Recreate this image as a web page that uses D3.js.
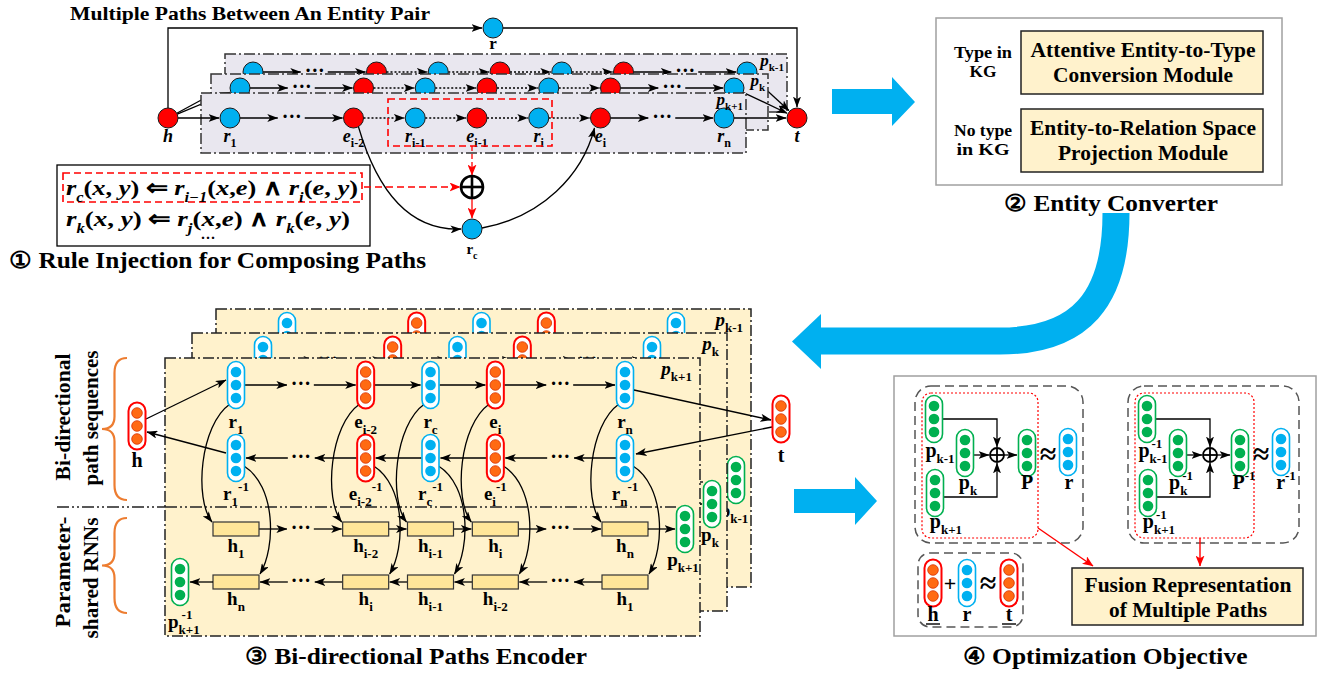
<!DOCTYPE html>
<html><head><meta charset="utf-8">
<script src="https://cdnjs.cloudflare.com/ajax/libs/d3/7.8.5/d3.min.js"></script>
<style>html,body{margin:0;padding:0;background:#fff;overflow:hidden}text{white-space:pre}</style>
</head><body>
<svg id="chart" width="1330" height="676"></svg>
<script>
// ================= DATA =================
const topTitle = "Multiple Paths Between An Entity Pair";
const sectionTitles = ["\u2460 Rule Injection for Composing Paths", "\u2461 Entity Converter", "\u2462 Bi-directional Paths Encoder", "\u2463 Optimization Objective"];
const topPathNodes = ["r_{1}", "\u00b7\u00b7\u00b7", "e_{i-2}", "r_{i-1}", "e_{i-1}", "r_{i}", "e_{i}", "\u00b7\u00b7\u00b7", "r_{n}"];
const topNodeKinds = ["rel", "dots", "ent", "rel", "ent", "rel", "ent", "dots", "rel"];
const composedRange = [2, 6];
const pathPanels = ["p_{k-1}", "p_{k}", "p_{k+1}"];
const pairLabels = ["h", "r", "t"];
const composedLabel = "r_{c}";
const ruleLines = ["r_{c}(x, y) \u21D0 r_{i\u22121}(x,e) \u2227 r_{i}(e, y)", "r_{k}(x, y) \u21D0 r_{j}(x,e) \u2227 r_{k}(e, y)"];
const converterConditions = [["Type in", "KG"], ["No type", "in KG"]];
const converterModules = [["Attentive Entity-to-Type", "Conversion Module"], ["Entity-to-Relation Space", "Projection Module"]];
const encSeqForward = ["r_{1}", "\u00b7\u00b7\u00b7", "e_{i-2}", "r_{c}", "e_{i}", "\u00b7\u00b7\u00b7", "r_{n}"];
const encSeqBackward = ["r_{1}^{-1}", "\u00b7\u00b7\u00b7", "e_{i-2}^{-1}", "r_{c}^{-1}", "e_{i}^{-1}", "\u00b7\u00b7\u00b7", "r_{n}^{-1}"];
const encKinds = ["rel", "dots", "ent", "rel", "ent", "dots", "rel"];
const rnnForward = ["h_{1}", "\u00b7\u00b7\u00b7", "h_{i-2}", "h_{i-1}", "h_{i}", "\u00b7\u00b7\u00b7", "h_{n}"];
const rnnBackward = ["h_{n}", "\u00b7\u00b7\u00b7", "h_{i}", "h_{i-1}", "h_{i-2}", "\u00b7\u00b7\u00b7", "h_{1}"];
const encSideLabels = [["Bi-directional", "path sequences"], ["Parameter-", "shared RNNs"]];
const invPathLabel = "p_{k+1}^{-1}";
const fusionInputs = [["p_{k-1}", "p_{k}", "p_{k+1}"], ["p_{k-1}^{-1}", "p_{k}^{-1}", "p_{k+1}^{-1}"]];
const fusionOutputs = [["P", "r"], ["P^{-1}", "r^{-1}"]];
const tripleLabels = ["h", "r", "t"];
const fusionText = ["Fusion Representation", "of Multiple Paths"];

// ================= STYLE / HELPERS =================
const SERIF = "'Liberation Serif','Times New Roman',Times,serif";
const C = { blue: "#00b0f0", red: "#ff0000", orange: "#ff6a13", green: "#00b050", tan: "#fff2cc", rnn: "#ffe699", lav: "#e9e7ef", brace: "#ed7d31" };
const DASHDOT = "11,3,2,3";
const svg = d3.select("#chart");
svg.append("rect").attr("width", 1330).attr("height", 676).attr("fill", "#fff");
const defs = svg.append("defs");
function marker(id, color, w, h) {
  defs.append("marker").attr("id", id).attr("viewBox", "0 0 10 10").attr("refX", 9.5).attr("refY", 5)
    .attr("markerWidth", w).attr("markerHeight", h).attr("markerUnits", "userSpaceOnUse")
    .attr("orient", "auto").attr("preserveAspectRatio", "none")
    .append("path").attr("d", "M0,0 L10,5 L0,10 L2.5,5 Z").attr("fill", color);
}
marker("ak", "#000", 11, 8);
marker("ar", C.red, 11, 9);
function line(g, x1, y1, x2, y2, o = {}) {
  return g.append("line").attr("x1", x1).attr("y1", y1).attr("x2", x2).attr("y2", y2)
    .attr("stroke", o.color || "#000").attr("stroke-width", o.w || 1.3)
    .attr("stroke-dasharray", o.dash || null)
    .attr("marker-end", o.arrow === false ? null : `url(#${o.marker || "ak"})`);
}
function pth(g, d, o = {}) {
  return g.append("path").attr("d", d).attr("fill", "none").attr("stroke", o.color || "#000")
    .attr("stroke-width", o.w || 1.3).attr("stroke-dasharray", o.dash || null)
    .attr("marker-end", o.arrow === false ? null : `url(#${o.marker || "ak"})`);
}
function txt(g, x, y, s, o = {}) {
  const t = g.append("text").attr("x", x).attr("y", y).attr("text-anchor", o.anchor || "middle")
    .attr("font-family", SERIF).attr("font-weight", o.weight || "bold").attr("font-size", o.size || 18)
    .attr("fill", "#000").text(s);
  if (o.style) t.attr("font-style", o.style);
  if (o.len) t.attr("textLength", o.len).attr("lengthAdjust", "spacingAndGlyphs");
  return t;
}
function lab(g, x, y, s, o = {}) {
  const size = o.size || 18, ss = o.sub || Math.round(size * 0.66);
  const m = s.match(/^([^_^]*)(?:_\{([^}]*)\})?(?:\^\{([^}]*)\})?$/);
  const t = g.append("text").attr("x", x).attr("y", y).attr("text-anchor", o.anchor || "middle")
    .attr("font-family", SERIF).attr("font-weight", "bold").attr("font-size", size).attr("fill", "#000");
  t.append("tspan").attr("font-style", o.italic ? "italic" : "normal").text(m[1]);
  const subDy = size * 0.3, supDy = size * 0.45;
  if (m[2] && m[3] && o.stack) {
    const sp = t.append("tspan").attr("font-size", ss).attr("dy", -supDy).attr("dx", o.supDx || 0).text(m[3]);
    const w = sp.node().getComputedTextLength() + (o.supDx || 0);
    t.append("tspan").attr("font-size", ss).attr("dx", -w).attr("dy", supDy + subDy).text(m[2]);
  } else {
    if (m[2]) t.append("tspan").attr("font-size", ss).attr("dy", subDy).text(m[2]);
    if (m[3]) t.append("tspan").attr("font-size", ss).attr("dy", -(m[2] ? subDy : 0) - supDy).text(m[3]);
  }
  return t;
}
function mathLine(g, x, y, s, size, len) {
  const t = g.append("text").attr("x", x).attr("y", y).attr("font-family", SERIF)
    .attr("font-weight", "bold").attr("font-size", size).attr("fill", "#000");
  let cur = 0;
  const put = (str, italic, fs, off) => {
    const sp = t.append("tspan").text(str).attr("font-style", italic ? "italic" : "normal");
    if (fs) sp.attr("font-size", fs);
    if (off !== cur) { sp.attr("dy", off - cur); cur = off; }
  };
  const re = /([a-z])(?:_\{([^}]*)\})?|([^a-z])/g; let m;
  while ((m = re.exec(s))) {
    if (m[1]) { put(m[1], true, null, 0); if (m[2]) put(m[2], true, size * 0.62, size * 0.3); }
    else put(m[3], false, null, 0);
  }
  if (len) t.attr("textLength", len).attr("lengthAdjust", "spacingAndGlyphs");
  return t;
}
const VEC = {
  ent: { stroke: "#ff0000", fill: C.orange, ring: "#d83000" },
  rel: { stroke: C.blue, fill: C.blue, ring: "none" },
  path: { stroke: C.green, fill: C.green, ring: "none" }
};
function vec(g, cx, cy, kind) {
  const st = VEC[kind];
  g.append("rect").attr("x", cx - 8.5).attr("y", cy - 23.5).attr("width", 17).attr("height", 47).attr("rx", 8.5)
    .attr("fill", "#fff").attr("stroke", st.stroke).attr("stroke-width", kind === "ent" ? 2 : 1.6);
  [-13, 0, 13].forEach(d => g.append("circle").attr("cx", cx).attr("cy", cy + d).attr("r", 5.3)
    .attr("fill", st.fill).attr("stroke", st.ring).attr("stroke-width", 0.8));
}
function oplus(g, cx, cy, r, w) {
  g.append("circle").attr("cx", cx).attr("cy", cy).attr("r", r).attr("fill", "#fff").attr("stroke", "#000").attr("stroke-width", w);
  line(g, cx - r, cy, cx + r, cy, { w: w, arrow: false });
  line(g, cx, cy - r, cx, cy + r, { w: w, arrow: false });
}
function braceL(x, y0, y1, w) {
  const ym = (y0 + y1) / 2, xr = x + w, xm = x + w / 2;
  return `M${xr},${y0} Q${xm},${y0} ${xm},${y0 + w * 0.6} L${xm},${ym - w * 0.5} Q${xm},${ym} ${x},${ym} ` +
    `Q${xm},${ym} ${xm},${ym + w * 0.5} L${xm},${y1 - w * 0.6} Q${xm},${y1} ${xr},${y1}`;
}
function dots(g, x, y) { txt(g, x, y + 5, "\u00b7\u00b7\u00b7", { size: 20 }); }

// ================= SECTION 1: multiple paths =================
const g1 = svg.append("g");
txt(g1, 70, 20, topTitle, { anchor: "start", size: 19, len: 360 });
const H = { x: 168, y: 118 }, T = { x: 797, y: 118 }, RN = 10, topRX = 493, topRY = 28;
const topX = d3.scalePoint().domain(d3.range(topPathNodes.length)).range([230, 724]);
pth(g1, `M${H.x},${H.y - RN} V${topRY} H${topRX - RN - 1}`);
pth(g1, `M${topRX + RN},${topRY} H${T.x} V${T.y - RN - 1}`);
g1.append("circle").attr("cx", topRX).attr("cy", topRY).attr("r", RN).attr("fill", C.blue).attr("stroke", "#1a1a1a");
lab(g1, topRX, topRY + 21, pairLabels[1], { size: 17 });
const topPanelLayout = [
  { dx: 23, ny: 72, y0: 54, y1: 112, x0: 225, x1: 787 },
  { dx: 10, ny: 88, y0: 74, y1: 130, x0: 211, x1: 768 },
  { dx: 0, ny: 118, y0: 93, y1: 153, x0: 201, x1: 746 }];
pathPanels.forEach((pl, k) => {
  const L = topPanelLayout[k], ny = L.ny, g = g1.append("g");
  g.append("rect").attr("x", L.x0).attr("y", L.y0).attr("width", L.x1 - L.x0).attr("height", L.y1 - L.y0)
    .attr("fill", C.lav).attr("stroke", "#333").attr("stroke-width", 1.5).attr("stroke-dasharray", DASHDOT);
  const nx = i => topX(i) + L.dx, N = topPathNodes.length;
  let a = Math.atan2(ny - H.y, nx(0) - H.x);
  line(g, H.x + RN * Math.cos(a), H.y + RN * Math.sin(a), nx(0) - (RN + 1) * Math.cos(a), ny - (RN + 1) * Math.sin(a));
  for (let i = 0; i < N - 1; i++) {
    const ra = topNodeKinds[i] === "dots" ? 13 : RN, rb = topNodeKinds[i + 1] === "dots" ? 14 : RN + 1;
    const dotted = i >= composedRange[0] && i < composedRange[1];
    line(g, nx(i) + ra, ny, nx(i + 1) - rb, ny, { dash: dotted ? "2,2" : null });
  }
  a = Math.atan2(T.y - ny, T.x - nx(N - 1));
  line(g, nx(N - 1) + RN * Math.cos(a), ny + RN * Math.sin(a), T.x - (RN + 1) * Math.cos(a), T.y - (RN + 1) * Math.sin(a));
  topPathNodes.forEach((n, i) => {
    if (topNodeKinds[i] === "dots") { dots(g, nx(i), ny); return; }
    g.append("circle").attr("cx", nx(i)).attr("cy", ny).attr("r", RN)
      .attr("fill", topNodeKinds[i] === "ent" ? C.red : C.blue).attr("stroke", "#1a1a1a");
    lab(g, nx(i), ny + 24, n, { italic: true, size: 18, sub: 12 });
  });
  lab(g, L.x1 - 3, L.y0 + 12, pl, { anchor: "end", italic: true, size: 17, sub: 11 });
});
[[H, pairLabels[0]], [T, pairLabels[2]]].forEach(([p, s]) => {
  g1.append("circle").attr("cx", p.x).attr("cy", p.y).attr("r", RN).attr("fill", C.red).attr("stroke", "#1a1a1a");
  lab(g1, p.x, p.y + 24, s, { italic: true, size: 18 });
});
g1.append("rect").attr("x", 388).attr("y", 99).attr("width", 164).attr("height", 47).attr("fill", "none")
  .attr("stroke", C.red).attr("stroke-width", 1.6).attr("stroke-dasharray", "7,4");
const OP = { x: 472, y: 187 }, RC = { x: 472, y: 229 };
line(g1, OP.x, 146, OP.x, OP.y - 12, { color: C.red, marker: "ar", dash: "5,3", w: 1.3 });
line(g1, OP.x, OP.y + 12, OP.x, RC.y - RN - 1, { color: C.red, marker: "ar", w: 1.3 });
pth(g1, `M${topX(2) + 5},${H.y + 9} C${topX(2) + 25},${195} ${OP.x - 60},${RC.y + 2} ${RC.x - RN - 1},${RC.y}`);
pth(g1, `M${RC.x + RN},${RC.y - 1} C${RC.x + 70},${RC.y - 12} ${topX(6) - 18},${175} ${topX(6) - 6},${H.y + 10}`);
oplus(g1, OP.x, OP.y, 11, 2.6);
g1.append("circle").attr("cx", RC.x).attr("cy", RC.y).attr("r", RN).attr("fill", C.blue).attr("stroke", "#1a1a1a");
lab(g1, RC.x, RC.y + 25, composedLabel, { size: 15, sub: 10 });
g1.append("rect").attr("x", 57).attr("y", 165).attr("width", 313).attr("height", 81).attr("fill", "#fff").attr("stroke", "#000").attr("stroke-width", 1.3);
g1.append("rect").attr("x", 63).attr("y", 173).attr("width", 299).attr("height", 29).attr("fill", "none")
  .attr("stroke", C.red).attr("stroke-width", 1.6).attr("stroke-dasharray", "7,4");
mathLine(g1, 66, 195, ruleLines[0], 22, 292);
mathLine(g1, 66, 226, ruleLines[1], 22, 284);
txt(g1, 208, 243, "\u00b7\u00b7\u00b7", { size: 15 });
line(g1, 364, OP.y, OP.x - 12, OP.y, { color: C.red, marker: "ar", dash: "7,4", w: 1.4 });
txt(g1, 9, 268, sectionTitles[0], { anchor: "start", size: 23, len: 417 });

// ================= SECTION 2: entity converter =================
const g2 = svg.append("g");
g2.append("path").attr("d", "M832,89 L892,89 L892,77 L915,102 L892,126 L892,114 L832,114 Z").attr("fill", C.blue);
g2.append("rect").attr("x", 936).attr("y", 18).attr("width", 346).attr("height", 167).attr("fill", "#fff").attr("stroke", "#a0a0a0").attr("stroke-width", 1.5);
const modY = [31, 109];
converterModules.forEach((m, i) => {
  g2.append("rect").attr("x", 1021).attr("y", modY[i]).attr("width", 242).attr("height", 63)
    .attr("fill", C.tan).attr("stroke", "#222").attr("stroke-width", 1.5);
  txt(g2, 1143, modY[i] + 26, m[0], { size: 20, len: [225, 226][i] });
  txt(g2, 1143, modY[i] + 51, m[1], { size: 20, len: [180, 170][i] });
  const c = converterConditions[i];
  txt(g2, 983, modY[i] + 27, c[0], { size: 16, len: 58 });
  txt(g2, 983, modY[i] + 46, c[1], { size: 16, len: [27, 53][i] });
});
txt(g2, 1111, 211, sectionTitles[1], { size: 23, len: 214 });
g2.append("path").attr("d", "M1116,213 C1116,300 1080,341 1000,341 L819,341").attr("fill", "none").attr("stroke", C.blue).attr("stroke-width", 27);
g2.append("path").attr("d", "M821,314 L821,369 L792,341.5 Z").attr("fill", C.blue);

// ================= SECTION 3: encoder =================
const g3 = svg.append("g");
const encX = d3.scalePoint().domain(d3.range(encSeqForward.length)).range([236, 625]);
const Y1 = 385, Y2 = 458, YF = 529, YB = 582, RW = 46, RH = 14;
const GP = { x: 685, y: 529 }, GB = { x: 180, y: 582 };
function encoderPanel(g, pl) {
  g.append("rect").attr("x", 165).attr("y", 358).attr("width", 535).attr("height", 278)
    .attr("fill", C.tan).attr("stroke", "#222").attr("stroke-width", 1.5).attr("stroke-dasharray", DASHDOT);
  line(g, 165, 507, GP.x - 9, 507, { arrow: false, dash: "12,3,2,3,2,3", w: 1.6, color: "#222" });
  const n = encSeqForward.length, X = encX;
  encSeqForward.forEach((s, i) => {
    if (encKinds[i] === "dots") return;
    const x = X(i);
    pth(g, `M${x - 6},${Y1 + 19} C${x - 36},${Y1 + 40} ${x - 42},${YF - 30} ${x - 24},${YF - 7}`);
  });
  encSeqBackward.forEach((s, i) => {
    if (encKinds[i] === "dots") return;
    const x = X(i);
    pth(g, `M${x + 8},${Y2 + 8} C${x + 40},${Y2 + 28} ${x + 40},${YB - 35} ${x + 24},${YB - 8}`);
  });
  for (let i = 0; i < n - 1; i++) {
    const dA = encKinds[i] === "dots", dB = encKinds[i + 1] === "dots";
    line(g, X(i) + (dA ? 13 : 9), Y1, X(i + 1) - (dB ? 14 : 10), Y1);
    line(g, X(i + 1) - (dB ? 13 : 9), Y2, X(i) + (dA ? 14 : 10), Y2);
    line(g, X(i) + (dA ? 13 : RW / 2), YF, X(i + 1) - (dB ? 14 : RW / 2 + 1), YF);
    line(g, X(i + 1) - (dB ? 13 : RW / 2), YB, X(i) + (dA ? 14 : RW / 2 + 1), YB);
  }
  encSeqForward.forEach((s, i) => {
    const x = X(i);
    if (encKinds[i] === "dots") { dots(g, x, Y1); dots(g, x, Y2); dots(g, x, YF); dots(g, x, YB); return; }
    vec(g, x, Y1, encKinds[i]); vec(g, x, Y2, encKinds[i]);
    lab(g, x, Y1 + 43, s, { size: 19, sub: 13 });
    lab(g, x, Y2 + 42, encSeqBackward[i], { size: 19, sub: 13 });
    [[YF, rnnForward[i]], [YB, rnnBackward[i]]].forEach(([y, l]) => {
      g.append("rect").attr("x", x - RW / 2).attr("y", y - RH / 2).attr("width", RW).attr("height", RH)
        .attr("fill", C.rnn).attr("stroke", "#333").attr("stroke-width", 1.2);
      lab(g, x, y + 23, l, { size: 19, sub: 13 });
    });
  });
  line(g, X(n - 1) + RW / 2, YF, GP.x - 10, YF);
  vec(g, GP.x, GP.y, "path");
  lab(g, GP.x - 2, GP.y + 37, pl, { size: 19, sub: 13 });
  line(g, X(0) - RW / 2, YB, GB.x + 10, YB);
  vec(g, GB.x, GB.y, "path");
  lab(g, 168, 628, invPathLabel, { anchor: "start", size: 19, sub: 13, stack: true, supDx: 3 });
  lab(g, 692, 375, pl, { anchor: "end", italic: true, size: 19, sub: 13 });
}
const encPanelLayout = [{ dx: 51, dy: -49 }, { dx: 27, dy: -25 }, { dx: 0, dy: 0 }];
pathPanels.forEach((pl, k) => {
  const L = encPanelLayout[k];
  encoderPanel(g3.append("g").attr("transform", `translate(${L.dx},${L.dy})`), pl);
});
const EH = { x: 137, y: 426 }, ET = { x: 781, y: 419 };
line(g3, 57, 507, 165, 507, { arrow: false, dash: "12,3,2,3,2,3", w: 1.6, color: "#222" });
line(g3, EH.x + 9, EH.y - 7, encX(0) - 10, Y1 - 5);
line(g3, encX(0) - 10, Y2 - 5, EH.x + 10, EH.y + 6);
line(g3, encX(6) + 9, Y1 + 5, ET.x - 10, ET.y + 1);
line(g3, ET.x - 9, ET.y + 8, encX(6) + 11, Y2 - 4);
vec(g3, EH.x, EH.y, "ent");
vec(g3, ET.x, ET.y, "ent");
lab(g3, EH.x, EH.y + 41, pairLabels[0], { size: 20 });
lab(g3, ET.x, ET.y + 43, pairLabels[2], { size: 20 });
pth(g3, braceL(102, 358, 500, 25), { arrow: false, color: C.brace, w: 2.2 });
pth(g3, braceL(102, 518, 613, 25), { arrow: false, color: C.brace, w: 2.2 });
const sideCY = [[417, 418], [572, 578]], sideLen = [[127, 135], [111, 121]];
encSideLabels.forEach((pair, i) => {
  pair.forEach((s, j) => {
    const cx = 62 + j * 28, cy = sideCY[i][j];
    txt(g3.append("g").attr("transform", `translate(${cx},${cy}) rotate(-90)`), 0, 0, s, { size: 22, len: sideLen[i][j] })
      .attr("dy", "0.35em");
  });
});
txt(g3, 416, 664, sectionTitles[2], { size: 23, len: 342 });
g3.append("path").attr("d", "M794,489 L855,489 L855,477 L877,501 L855,525 L855,513 L794,513 Z").attr("fill", C.blue);

// ================= SECTION 4: optimization objective =================
const g4 = svg.append("g");
g4.append("rect").attr("x", 894).attr("y", 376).attr("width", 422).attr("height", 260).attr("fill", "#fff").attr("stroke", "#a0a0a0").attr("stroke-width", 1.5);
fusionInputs.forEach((inputs, j) => {
  const ox = j * 213, g = g4.append("g").attr("transform", `translate(${ox},0)`);
  const inv = j === 1;
  g.append("rect").attr("x", 915).attr("y", 386).attr("width", 168 + j * 3).attr("height", 157).attr("rx", 16)
    .attr("fill", "none").attr("stroke", "#555").attr("stroke-width", 1.5).attr("stroke-dasharray", "9,5");
  g.append("rect").attr("x", 922).attr("y", 393).attr("width", 116 + j * 3).attr("height", 145).attr("rx", 9)
    .attr("fill", "none").attr("stroke", C.red).attr("stroke-width", 1.2).attr("stroke-dasharray", "2,2");
  const P = [{ x: 934, y: 419 }, { x: 965, y: 453 }, { x: 935, y: 493 }], O = { x: 997, y: 455 };
  pth(g, `M${P[0].x + 9},${P[0].y} H${O.x} V${O.y - 8}`);
  line(g, P[1].x + 9, O.y, O.x - 8, O.y);
  pth(g, `M${P[2].x + 9},${P[2].y + 4} H${O.x} V${O.y + 8}`);
  line(g, O.x + 7, O.y, 1017, O.y);
  oplus(g, O.x, O.y, 7, 1.8);
  P.forEach(p => vec(g, p.x, p.y, "path"));
  vec(g, 1027, 453, "path");
  vec(g, 1068, 452, "rel");
  txt(g, 1048, 464, "\u2248", { size: 30 });
  const lo = { size: 20, sub: 13, stack: inv, supDx: 2 };
  lab(g, 940, 457, inputs[0], lo);
  lab(g, 968, 489, inputs[1], lo);
  lab(g, 946, 528, inputs[2], lo);
  lab(g, inv ? 1031 : 1027, 489, fusionOutputs[j][0], { size: 20, sub: 13 });
  lab(g, inv ? 1073 : 1069, 489, fusionOutputs[j][1], { size: 20, sub: 13 });
});
g4.append("rect").attr("x", 918).attr("y", 553).attr("width", 105).attr("height", 74).attr("rx", 12)
  .attr("fill", "none").attr("stroke", "#555").attr("stroke-width", 1.5).attr("stroke-dasharray", "9,5");
const tripleX = [933, 967, 1009], tripleKind = ["ent", "rel", "ent"];
tripleLabels.forEach((s, i) => {
  vec(g4, tripleX[i], 583, tripleKind[i]);
  lab(g4, tripleX[i], 621, s, { size: 20 });
  if (i !== 1) line(g4, tripleX[i] - 7, 624, tripleX[i] + 7, 624, { arrow: false, w: 1.4 });
});
txt(g4, 950, 591, "+", { size: 22 });
txt(g4, 988, 593, "\u2248", { size: 30 });
g4.append("rect").attr("x", 1072).attr("y", 568).attr("width", 231).attr("height", 57).attr("fill", C.tan).attr("stroke", "#222").attr("stroke-width", 1.5);
txt(g4, 1188, 592, fusionText[0], { size: 22, len: 207 });
txt(g4, 1188, 617, fusionText[1], { size: 22, len: 158 });
line(g4, 1038, 528, 1093, 566, { color: C.red, marker: "ar", w: 1.4 });
line(g4, 1200, 538, 1200, 566, { color: C.red, marker: "ar", w: 1.4 });
txt(g4, 1105, 664, sectionTitles[3], { size: 23, len: 285 });
</script>
</body></html>
